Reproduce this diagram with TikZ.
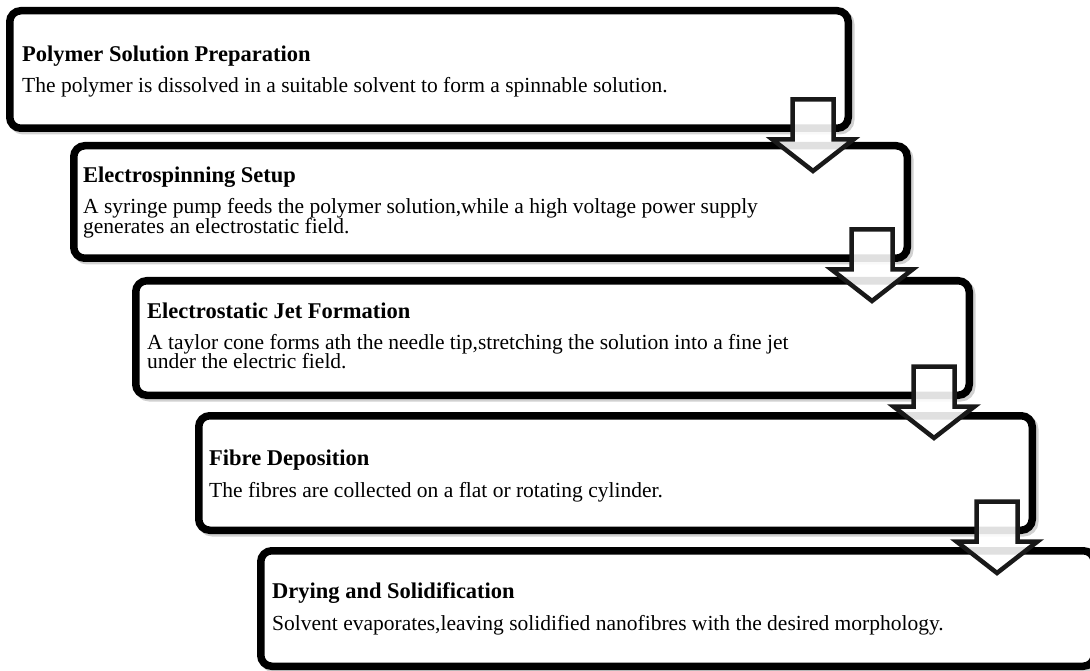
\documentclass[tikz,border=0pt]{standalone}
\usepackage{fontspec}
\setmainfont{Liberation Serif}
\usetikzlibrary{positioning,calc}

\begin{document}
\begin{tikzpicture}[x=1pt,y=1pt,
  stepbox/.style={draw=black,line width=7.5pt,rounded corners=11pt,fill=white,anchor=north west,inner sep=0pt,
    minimum width=833.5pt,minimum height=114.5pt,
    preaction={draw=black!18,line width=7.5pt,transform canvas={shift={(2.5pt,-2.5pt)}}}},
  steptitle/.style={font=\fontsize{22.5}{24}\selectfont\bfseries,inner sep=0pt,anchor=base west},
  stepbody/.style={font=\fontsize{21.5}{17.5}\selectfont,inner sep=0pt,anchor=base west},
  downarrow/.style={draw=black!90,line width=4.5pt,fill=white,fill opacity=0.88,line join=miter}]
\path[use as bounding box] (0,0) rectangle (1090,-671);
\clip (0,0) rectangle (1090,-671);
% steps
\node[stepbox,minimum width=838.5pt,minimum height=117.5pt] (b1) at (6,-7) {};
\node[stepbox,minimum height=112.5pt] (b2) at (70,-142) {};
\node[stepbox] (b3) at (132,-277) {};
\node[stepbox] (b4) at (195,-412) {};
\node[stepbox,minimum height=115.5pt] (b5) at (257,-547) {};
% texts
\node[steptitle] (t1) at ($(b1.north west)+(16,-55)$) {Polymer Solution Preparation};
\node[stepbody] (d1) at ($(t1.base west)+(0,-31)$) {The polymer is dissolved in a suitable solvent to form a spinnable solution.};
\node[steptitle] (t2) at ($(b2.north west)+(13,-41)$) {Electrospinning Setup};
\node[stepbody] (d2) at ($(t2.base west)+(0,-31)$) {A syringe pump feeds the polymer solution,while a high voltage power supply};
\node[stepbody] (e2) at ($(d2.base west)+(0,-19.5)$) {generates an electrostatic field.};
\node[steptitle] (t3) at ($(b3.north west)+(15,-41)$) {Electrostatic Jet Formation};
\node[stepbody] (d3) at ($(t3.base west)+(0,-31)$) {A taylor cone forms ath the needle tip,stretching the solution into a fine jet};
\node[stepbody] (e3) at ($(d3.base west)+(0,-19.5)$) {under the electric field.};
\node[steptitle] (t4) at ($(b4.north west)+(14,-53)$) {Fibre Deposition};
\node[stepbody] (d4) at ($(t4.base west)+(0,-32)$) {The fibres are collected on a flat or rotating cylinder.};
\node[steptitle] (t5) at ($(b5.north west)+(15,-51)$) {Drying and Solidification};
\node[stepbody] (d5) at ($(t5.base west)+(0,-32)$) {Solvent evaporates,leaving solidified nanofibres with the desired morphology.};
% block arrows between steps
\foreach \b in {b1,b2,b3,b4}{
  \draw[downarrow] ($(\b.south east)+(-59.5,32.5)$) -- ++(41,0) -- ++(0,-40) -- ++(20,0)
    -- ++(-40.5,-31.5) -- ++(-40.5,31.5) -- ++(20,0) -- cycle;
}
\end{tikzpicture}
\end{document}
